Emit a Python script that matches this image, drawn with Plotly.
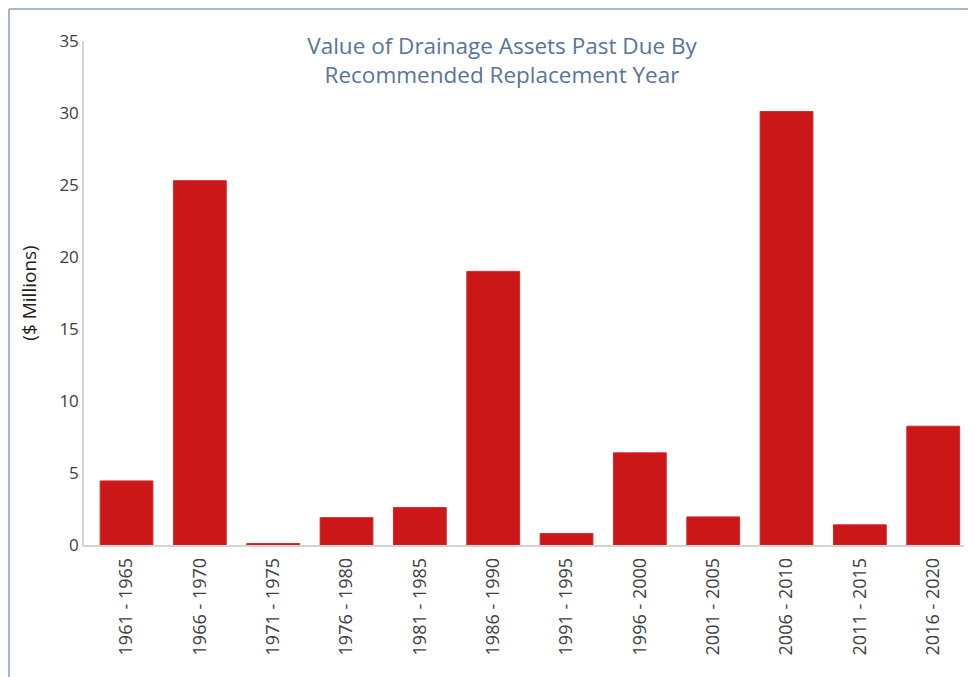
import plotly.graph_objects as go

periods = ['1961 - 1965', '1966 - 1970', '1971 - 1975', '1976 - 1980', '1981 - 1985', '1986 - 1990',
           '1991 - 1995', '1996 - 2000', '2001 - 2005', '2006 - 2010', '2011 - 2015', '2016 - 2020']
values = [4.45, 25.3, 0.1, 1.9, 2.6, 19.0, 0.8, 6.4, 1.95, 30.1, 1.4, 8.25]

FONT = 'Open Sans, Noto Sans, sans-serif'
BAR_RED = '#cc1719'
BORDER = '#a9b7cc'

# page puts the figure 8px in from the corner; plot area 84..964 x 41..545 on screen
L, T, R, B = 76, 33, 20, 140
W, H = 976, 677
PW, PH = W - L - R, H - T - B

fig = go.Figure()
fig.add_trace(go.Bar(
    x=periods, y=values,
    marker=dict(color=BAR_RED, line=dict(color='#d8272a', width=1)),
    width=0.72,
))

fig.update_layout(
    width=W, height=H,
    margin=dict(l=L, r=R, t=T, b=B),
    paper_bgcolor='white', plot_bgcolor='white',
    showlegend=False,
    font=dict(family=FONT, color='#404040', size=15),
    title=dict(
        text='Value of Drainage Assets Past Due By<br>Recommended Replacement Year',
        x=494 / W, xanchor='center', xref='container',
        y=1 - 46 / H, yanchor='top', yref='container',
        font=dict(family=FONT, size=22.5, color='#5a7399'),
    ),
    xaxis=dict(
        range=[-0.58, 11.42],
        tickangle=-90, showgrid=False, ticks='', automargin=False,
        showline=True, linecolor='#d4d4d4', linewidth=1.5,
        tickfont=dict(size=18, color='#404040'), ticklabelstandoff=4,
    ),
    yaxis=dict(
        range=[0, 35], dtick=5, showgrid=False, zeroline=False, automargin=False,
        showline=True, linecolor='#d4d4d4', linewidth=1.5, ticks='',
        title=dict(text='($ Millions)', font=dict(size=19, color='#222'), standoff=18),
        tickfont=dict(size=17, color='#404040'),
    ),
    shapes=[
        dict(type='line', xref='paper', yref='paper',
             x0=(1 - L) / PW, x1=(W - L) / PW, y0=(PH + T - 1) / PH, y1=(PH + T - 1) / PH,
             line=dict(color=BORDER, width=2)),
        dict(type='line', xref='paper', yref='paper',
             x0=(1 - L) / PW, x1=(1 - L) / PW, y0=(PH + T - 1) / PH, y1=(PH + T - H) / PH,
             line=dict(color=BORDER, width=2)),
    ],
)

fig.write_html('out.html')
